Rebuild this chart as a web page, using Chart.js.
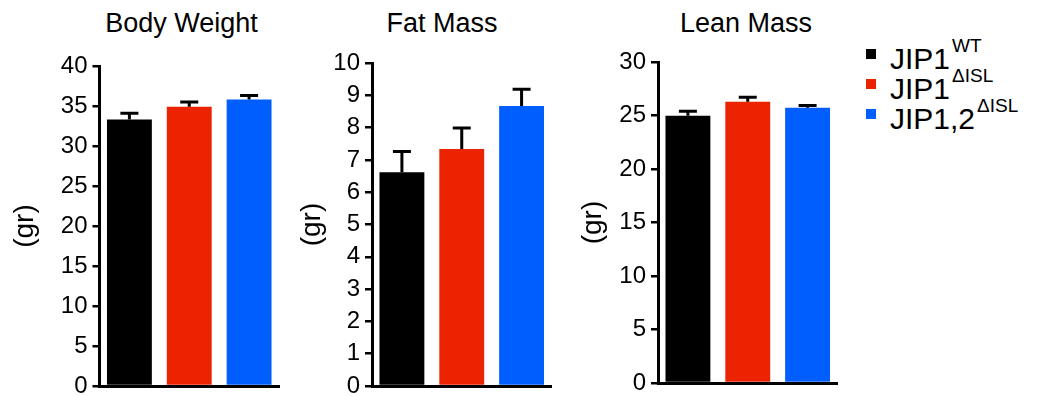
<!DOCTYPE html>
<html lang="en">
<head>
<meta charset="UTF-8">
<title>Body composition</title>
<script src="https://cdn.jsdelivr.net/npm/chart.js"></script>
<style>
  html, body { margin:0; padding:0; background:#fff; overflow:hidden; }
  body { width:1039px; height:396px; position:relative; font-family:"Liberation Sans", Arial, sans-serif; color:#000; }
  canvas { position:absolute; top:0; }
  .title { position:absolute; top:10px; font-size:27px; line-height:27px; white-space:nowrap; transform:translateX(-50%); }
  .legend-row { position:absolute; left:866px; height:30px; font-size:30px; line-height:30px; white-space:nowrap; }
  .legend-row .box { position:absolute; left:0; top:5px; width:10px; height:10px; }
  .legend-row .txt { position:absolute; left:24px; top:0; }
  .legend-row sup { font-size:19px; vertical-align:baseline; position:relative; top:-17px; margin-left:2px; }
</style>
</head>
<body>

<div id="titles"></div>
<div id="legend"></div>
<canvas id="bodyChart" width="300" height="396" style="left:0px"></canvas>
<canvas id="fatChart" width="280" height="396" style="left:287px"></canvas>
<canvas id="leanChart" width="285" height="396" style="left:568px"></canvas>

<script>
// groups (genotypes)
const groupNames = ['JIP1', 'JIP1', 'JIP1,2'];
const groupSups = ['WT', '\u0394ISL', '\u0394ISL'];
const groupColors = ['#000000', '#EB2300', '#005EFF'];

const panelTitles = ['Body Weight', 'Fat Mass', 'Lean Mass'];
const yUnit = '(gr)';

// means and error (upper bar only)
const bodyWeight = [33.3, 34.9, 35.8];
const bodyWeightErr = [0.8, 0.6, 0.5];
const fatMass = [6.62, 7.34, 8.67];
const fatMassErr = [0.64, 0.65, 0.52];
const leanMass = [24.97, 26.28, 25.72];
const leanMassErr = [0.43, 0.42, 0.22];

// y axis ranges
const yMax = [40, 10, 30];
const yStep = [5, 1, 5];

// layout of each panel on the page
const panelBoxes = [
  {id:'bodyChart', axisW:99.5, width:300, top:66, bottom:386, titleX:181.5},
  {id:'fatChart',  axisW:85,   width:280, top:63, bottom:386, titleX:442},
  {id:'leanChart', axisW:90,   width:285, top:62, bottom:383, titleX:746}
];
const plotWidth = 179.5;

Chart.defaults.font.family = '"Liberation Sans", Arial, sans-serif';
Chart.defaults.color = '#000';

// draws the error bars through the y scale
const errorBars = {
  id: 'errorBars',
  afterDatasetsDraw(chart) {
    const ctx = chart.ctx;
    const yScale = chart.scales.y;
    const ds = chart.data.datasets[0];
    const meta = chart.getDatasetMeta(0);
    ctx.save();
    ctx.strokeStyle = '#000';
    ctx.lineWidth = 3;
    meta.data.forEach((bar, i) => {
      const top = yScale.getPixelForValue(ds.data[i] + ds.errors[i]);
      ctx.beginPath();
      ctx.moveTo(bar.x, bar.y);
      ctx.lineTo(bar.x, top);
      ctx.moveTo(bar.x - 9, top);
      ctx.lineTo(bar.x + 9, top);
      ctx.stroke();
    });
    ctx.restore();
  }
};

function makePanel(i, values, errors) {
  const box = panelBoxes[i];
  return new Chart(document.getElementById(box.id), {
    type: 'bar',
    data: {
      labels: groupNames.map((n, k) => n + ' ' + groupSups[k]),
      datasets: [{
        data: values,
        errors: errors,
        backgroundColor: groupColors,
        borderWidth: 0,
        barPercentage: 0.75,
        categoryPercentage: 1.0
      }]
    },
    options: {
      responsive: false,
      animation: false,
      layout: {
        padding: {left:0, top:box.top, bottom:396 - box.bottom, right:box.width - box.axisW - plotWidth}
      },
      plugins: { legend:{display:false}, tooltip:{enabled:false} },
      scales: {
        x: {
          afterFit(s) { s.height = 0; s.paddingLeft = 0; s.paddingRight = 0; },
          ticks: { display:false },
          grid: { display:false },
          border: { color:'#000', width:3 }
        },
        y: {
          min: 0,
          max: yMax[i],
          afterFit(s) { s.width = box.axisW; s.paddingTop = 0; s.paddingBottom = 0; },
          ticks: { stepSize:yStep[i], color:'#000', font:{size:24}, padding:5 },
          grid: { drawOnChartArea:false, drawTicks:true, tickLength:7, color:'#000', lineWidth:2.5 },
          border: { color:'#000', width:3 },
          title: { display:true, text:yUnit, color:'#000', font:{size:28}, padding:{top:8, bottom:0} }
        }
      }
    },
    plugins: [errorBars]
  });
}

makePanel(0, bodyWeight, bodyWeightErr);
makePanel(1, fatMass, fatMassErr);
makePanel(2, leanMass, leanMassErr);

// panel titles
const titles = document.getElementById('titles');
panelTitles.forEach((t, i) => {
  const d = document.createElement('div');
  d.className = 'title';
  d.style.left = panelBoxes[i].titleX + 'px';
  d.textContent = t;
  titles.appendChild(d);
});

// legend with superscripts
const legend = document.getElementById('legend');
groupNames.forEach((n, i) => {
  const row = document.createElement('div');
  row.className = 'legend-row';
  row.style.top = (44 + i * 30) + 'px';
  const sq = document.createElement('span');
  sq.className = 'box';
  sq.style.background = groupColors[i];
  row.appendChild(sq);
  const txt = document.createElement('span');
  txt.className = 'txt';
  txt.textContent = n;
  const sup = document.createElement('sup');
  sup.textContent = groupSups[i];
  txt.appendChild(sup);
  row.appendChild(txt);
  legend.appendChild(row);
});
</script>

</body>
</html>
